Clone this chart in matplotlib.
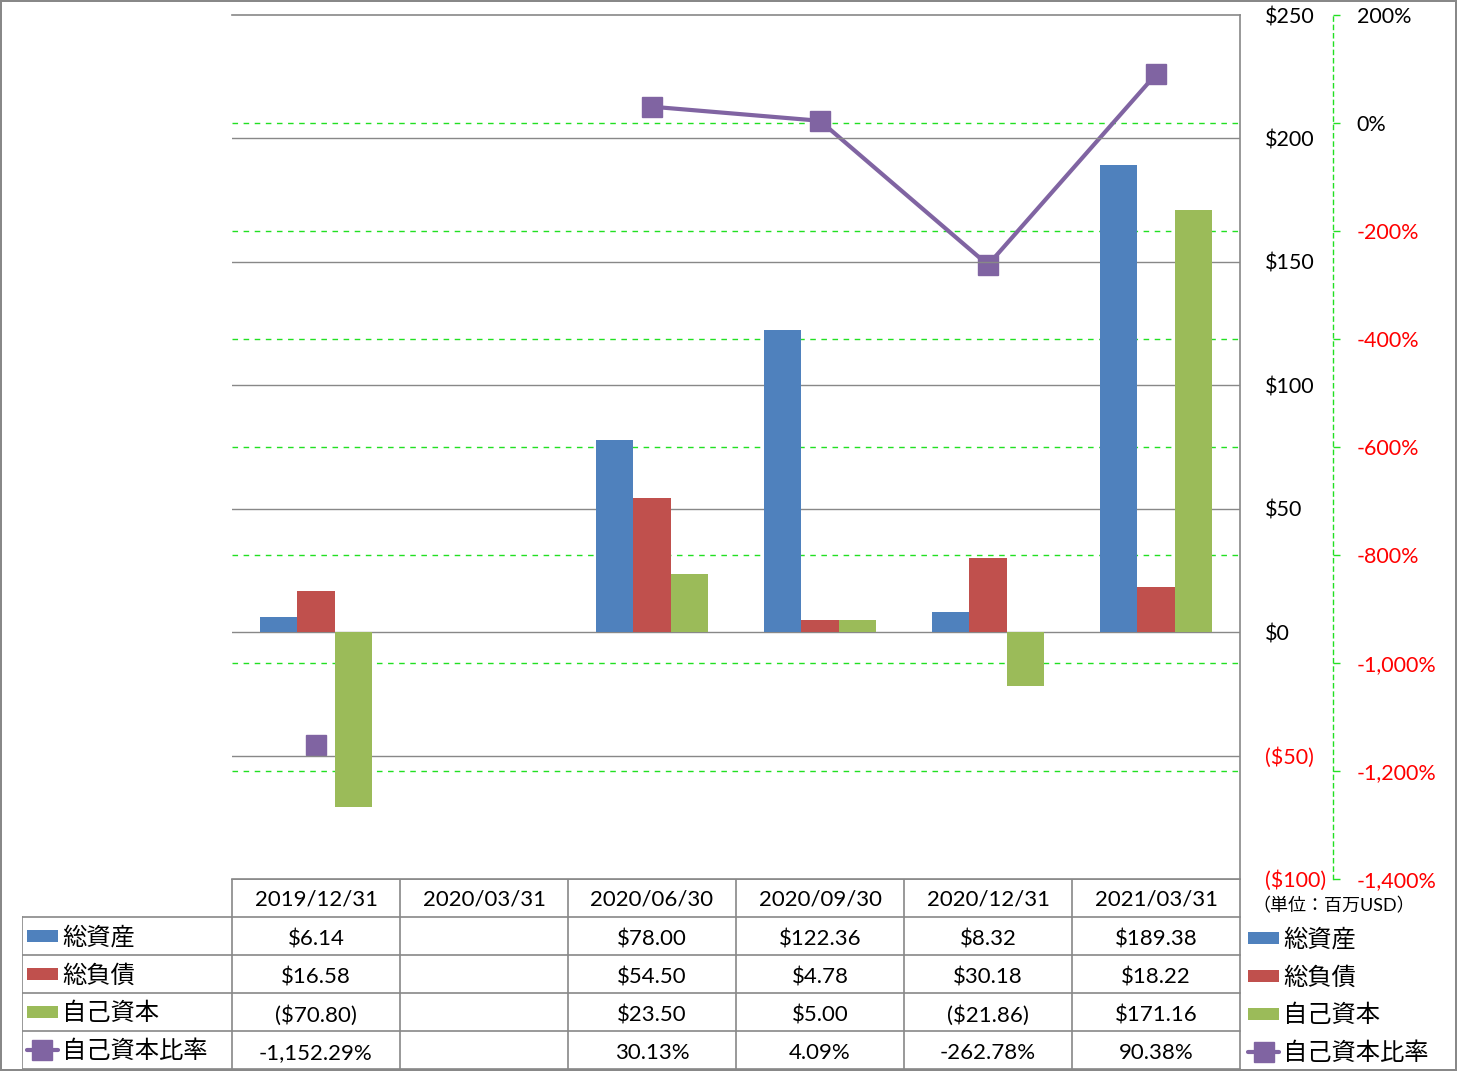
import numpy as np
from matplotlib import pyplot as plt
from matplotlib import patches

plt.rcParams['font.family'] = ['Lato', 'Noto Sans CJK JP', 'DejaVu Sans']

# data
dates = ['2019/12/31', '2020/03/31', '2020/06/30', '2020/09/30', '2020/12/31', '2021/03/31']
assets = [6.14, np.nan, 78.00, 122.36, 8.32, 189.38]
liabilities = [16.58, np.nan, 54.50, 4.78, 30.18, 18.22]
equity = [-70.80, np.nan, 23.50, 5.00, -21.86, 171.16]
ratio = [-1152.29, np.nan, 30.13, 4.09, -262.78, 90.38]

names = ['総資産', '総負債', '自己資本', '自己資本比率']
colors = ['#4F81BD', '#C0504D', '#9BBB59', '#8064A2']
unit_label = '（単位：百万USD）'

W, H = 1457, 1071
fig = plt.figure(figsize=(W / 100, H / 100), dpi=100, edgecolor='#888888', linewidth=1.5)

def fx(px):
    return px / W

def fy(py):
    return 1 - py / H

def money(v):
    if np.isnan(v):
        return ''
    return '${:,.2f}'.format(v) if v >= 0 else '(${:,.2f})'.format(-v)

def pct(v):
    if np.isnan(v):
        return ''
    return '{:,.2f}%'.format(v)

GRID = '#888888'
GREEN = '#22E022'
RED = '#FF0000'

# main axes
ax = fig.add_axes([fx(232), fy(879), fx(1240 - 232), (879 - 15) / H])
ax2 = ax.twinx()
ax.set_zorder(ax2.get_zorder() + 1)
ax.patch.set_visible(False)

x = np.arange(len(dates))
w = 1 / 4.5
for i, series in enumerate([assets, liabilities, equity]):
    ax.bar(x + (i - 1) * w, series, w, color=colors[i], zorder=3)

ax.set_xlim(-0.5, len(dates) - 0.5)
ax.set_ylim(-100, 250)
yt = np.arange(-100, 251, 50)
ax.set_yticks(yt)
ax.yaxis.tick_right()
ax.set_yticklabels([('${}'.format(v) if v >= 0 else '(${})'.format(-v)) for v in yt])
ax.tick_params(axis='y', length=0, pad=18, labelsize=15.5)
for t, v in zip(ax.yaxis.get_major_ticks(), yt):
    t.label2.set_color(RED if v < 0 else 'black')
ax.set_xticks([])
for v in yt[1:-1]:
    ax.axhline(v, color=GRID, lw=1, zorder=1)
ax.spines['left'].set_visible(False)
for s in ['top', 'right', 'bottom']:
    ax.spines[s].set_color(GRID)
    ax.spines[s].set_linewidth(1.2)

# secondary axis
ax2.plot(x, ratio, color=colors[3], lw=3, marker='s', markersize=15, zorder=4)
ax2.spines['right'].set_position(('outward', 67))
ax2.spines['right'].set_color(GREEN)
ax2.spines['right'].set_linestyle((0, (3, 3)))
ax2.spines['right'].set_linewidth(1)
for s in ['left', 'top', 'bottom']:
    ax2.spines[s].set_visible(False)
ax2.set_ylim(-1400, 200)
pt = np.arange(-1400, 201, 200)
ax2.set_yticks(pt)
ax2.set_yticklabels(['{:,}%'.format(v) for v in pt])
ax2.tick_params(axis='y', length=5, width=1, color=GREEN, pad=12, labelsize=15.5)
for t, v in zip(ax2.yaxis.get_major_ticks(), pt):
    t.label2.set_color(RED if v < 0 else 'black')
    t.tick2line.set_linestyle((0, (2, 2)))
for v in pt[1:-1]:
    ax2.axhline(v, color=GREEN, lw=1, ls=(0, (4, 4)), zorder=0)

# data table
tab = fig.add_axes([fx(22), fy(1069), fx(W - 22), (1069 - 879) / H])
tab.set_xlim(-1.75, -1.75 + (W - 22) / 168)
tab.set_ylim(5, 0)
tab.axis('off')
n = len(dates)
tab.plot([-0.5, n - 0.5], [0, 0], color=GRID, lw=1.2)
for r in range(1, 6):
    tab.plot([-1.75, n - 0.5], [r, r], color=GRID, lw=1.2)
tab.plot([-1.75, -1.75], [1, 5], color=GRID, lw=1.2)
for c in range(n + 1):
    tab.plot([c - 0.5, c - 0.5], [0, 5], color=GRID, lw=1.2)
dy = 0.08
for c, d in enumerate(dates):
    tab.text(c, 0.5 + dy / 2, d, ha='center', va='center', fontsize=16)
rows = [[money(v) for v in assets], [money(v) for v in liabilities],
        [money(v) for v in equity], [pct(v) for v in ratio]]
for r, row in enumerate(rows):
    for c, s in enumerate(row):
        tab.text(c, r + 1.5 + dy, s, ha='center', va='center', fontsize=16)

def legend_key(x0, yc, i):
    kw = 31 / 168
    if i < 3:
        tab.add_patch(patches.Rectangle((x0, yc - 0.16), kw, 0.32, color=colors[i], lw=0))
    else:
        tab.plot([x0, x0 + kw], [yc, yc], color=colors[i], lw=3, solid_capstyle='round')
        tab.plot([x0 + kw / 2], [yc], marker='s', color=colors[i], markersize=15)

for i, nm in enumerate(names):
    yc = i + 1.5
    legend_key(-1.75 + 5 / 168, yc, i)
    tab.text(-1.75 + 40 / 168, yc + 0.03, nm, ha='left', va='center', fontsize=17.5)
    legend_key(5.5 + 8 / 168, yc + 0.05, i)
    tab.text(5.5 + 43 / 168, yc + 0.08, nm, ha='left', va='center', fontsize=17.5)

fig.text(fx(1252), fy(906), unit_label, ha='left', va='center', fontsize=13)

fig.savefig('out.png', dpi=100)
